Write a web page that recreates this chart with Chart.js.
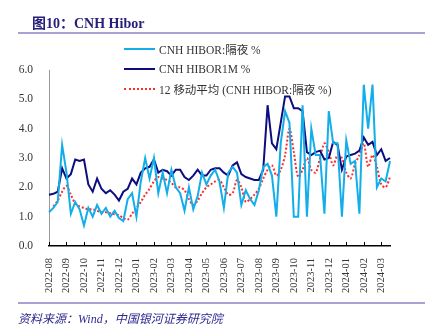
<!DOCTYPE html>
<html>
<head>
<meta charset="utf-8">
<script src="https://cdn.jsdelivr.net/npm/chart.js@4.4.1/dist/chart.umd.min.js"></script>
<style>
body { margin: 0; background: #fff; }
#wrap { position: relative; width: 425px; height: 329px; overflow: hidden; }
#chart_canvas { position: absolute; left: 0; top: 0; }
#title { position: absolute; left: 32px; top: 12px; font: bold 14px "Liberation Serif", "Noto Sans CJK SC", serif; color: #27207a; }
.rule { position: absolute; left: 18px; width: 407px; height: 2px; background: #a9a1d2; }
#legend { position: absolute; left: 124px; top: 39px; font: 11.5px "Liberation Serif", "Noto Sans CJK SC", serif; color: #333; }
.leg_row { height: 20px; display: flex; align-items: center; }
.leg_line { width: 31px; height: 0; margin-right: 4px; }
#source { position: absolute; left: 18px; top: 309px; font: italic 12px "Liberation Serif", "Noto Sans CJK SC", serif; color: #2f2a90; }
</style>
</head>
<body>
<div id="wrap">
    <canvas id="chart_canvas" width="425" height="329"></canvas>
    <div id="title">图10：CNH Hibor</div>
    <div class="rule" style="top:32px"></div>
    <div id="legend"></div>
    <div class="rule" style="top:302px;height:1.5px"></div>
    <div id="source">资料来源：Wind，中国银河证券研究院</div>
</div>
<script>
// month tick labels, one data point per quarter month
const months = ['2022-08', '2022-09', '2022-10', '2022-11', '2022-12', '2023-01', '2023-02', '2023-03',
    '2023-04', '2023-05', '2023-06', '2023-07', '2023-08', '2023-09', '2023-10', '2023-11',
    '2023-12', '2024-01', '2024-02', '2024-03'];

// CNH HIBOR overnight
const hibor_on = [
    1.15, 1.3, 1.5, 3.45, 2.5, 1.1, 1.5, 1.25,
    0.7, 1.3, 1.0, 1.4, 1.1, 1.3, 1.0, 1.2,
    0.95, 0.85, 1.6, 1.8, 1.0, 2.2, 3.0, 2.3,
    3.0, 1.8, 2.5, 1.8, 2.6, 2.0, 1.8, 1.2,
    2.0, 1.25, 1.7, 2.5, 2.1, 2.4, 2.6, 2.2,
    1.3, 2.5, 2.7, 2.5, 1.4, 1.9, 1.6, 1.4,
    1.9, 2.7, 2.8, 2.4, 1.0, 3.5, 4.6, 4.2,
    1.0, 1.0, 4.8, 1.0, 4.0, 3.1, 3.1, 1.1,
    4.6, 3.5, 3.5, 1.0, 3.6, 2.8, 2.9, 1.1,
    5.5, 4.0, 5.5, 2.0, 2.3, 2.2, 2.9
];

// CNH HIBOR 1M
const hibor_1m = [
    1.75, 1.78, 1.85, 2.65, 2.3, 2.45, 2.95, 2.9,
    2.95, 2.1, 1.85, 2.3, 1.95, 1.8, 1.9, 1.75,
    1.55, 1.85, 1.95, 2.3, 2.1, 2.5, 2.65, 2.7,
    2.95, 2.5, 2.6, 2.55, 2.4, 2.6, 2.6, 2.35,
    2.25, 2.4, 2.6, 2.4, 2.4, 2.6, 2.65, 2.65,
    2.5, 2.4, 2.75, 2.85, 2.45, 2.35, 2.3, 2.25,
    2.25, 2.6, 4.8, 3.5, 3.3, 4.2, 5.1, 5.1,
    4.7, 4.7, 4.6, 3.2, 3.1, 3.2, 3.25, 2.95,
    3.0, 3.55, 3.45, 2.6, 3.05, 3.1, 3.15, 3.25,
    3.7, 3.45, 3.55, 3.1, 3.3, 2.9, 3.0
];

// 12-day moving average of the overnight rate
const hibor_on_ma12 = [
    null, 1.35, 1.55, 1.85, 2.05, 1.75, 1.45, 1.35,
    1.3, 1.25, 1.25, 1.2, 1.15, 1.15, 1.12, 1.08,
    1.05, 0.95, 0.9, 1.1, 1.3, 1.5, 1.75, 1.95,
    2.2, 2.35, 2.3, 2.25, 2.15, 2.0, 2.0, 1.9,
    1.6, 1.4, 1.55, 1.8, 2.0, 2.1, 2.2, 2.25,
    2.0, 1.75, 1.8, 2.25, 2.0, 1.5, 1.6, 1.75,
    1.95, 2.3, 2.6, 2.75, 2.4, 2.6, 3.1, 4.0,
    3.2, 2.35, 2.6, 3.0, 2.6, 2.5, 3.0, 3.5,
    3.2, 2.75, 3.1, 3.0, 2.5, 2.3, 2.8, 3.1,
    3.5, 2.7, 3.1, 2.7, 2.1, 2.0, 2.35
];

const series_names = ['CNH HIBOR:隔夜 %', 'CNH HIBOR1M %', '12 移动平均 (CNH HIBOR:隔夜 %)'];
const serif = '"Liberation Serif", "Noto Sans CJK SC", serif';

// quarter-month labels, month name on the first of each group of 4
let labels = [];
for (i = 0; i < hibor_on.length; i++) {
    labels.push(months[Math.floor(i / 4)] + '/' + (i % 4 + 1));
}

// small upward tick marks on the x axis at each month
const month_ticks = {
    id: 'month_ticks',
    afterDraw(chart) {
        const ctx = chart.ctx;
        const xs = chart.scales.x;
        ctx.save();
        ctx.strokeStyle = '#000';
        ctx.lineWidth = 1;
        for (k = 0; k < months.length; k++) {
            const px = Math.round(xs.getPixelForValue(k * 4)) + 0.5;
            ctx.beginPath();
            ctx.moveTo(px, xs.top);
            ctx.lineTo(px, xs.top - 4);
            ctx.stroke();
        }
        ctx.restore();
    }
};

const colors = ['#12aeea', '#0d0d7f', '#ff2b2b'];

// html legend, stacked over the top of the plot
legend_div = document.getElementById('legend');
for (j = 0; j < series_names.length; j++) {
    row = document.createElement('div');
    row.className = 'leg_row';
    line_style = j == 2 ? 'border-top:2px dotted ' + colors[j] : 'border-top:2px solid ' + colors[j];
    row.innerHTML = '<span class="leg_line" style="' + line_style + '"></span>' + series_names[j];
    legend_div.append(row);
}

new Chart(
    document.getElementById('chart_canvas'),
    {
        type: 'line',
        data: {
            labels: labels,
            datasets: [
                {
                    label: series_names[0],
                    data: hibor_on,
                    borderColor: colors[0],
                    borderWidth: 2,
                    pointRadius: 0,
                    tension: 0
                },
                {
                    label: series_names[1],
                    data: hibor_1m,
                    borderColor: colors[1],
                    borderWidth: 2,
                    pointRadius: 0,
                    tension: 0
                },
                {
                    label: series_names[2],
                    data: hibor_on_ma12,
                    borderColor: colors[2],
                    borderWidth: 2,
                    borderDash: [2, 2],
                    pointRadius: 0,
                    tension: 0.3
                }
            ]
        },
        options: {
            responsive: false,
            animation: false,
            layout: {padding: {top: 70, left: 10, right: 35, bottom: 33}},
            plugins: {
                legend: {display: false},
                tooltip: {enabled: false}
            },
            scales: {
                x: {
                    type: 'category',
                    offset: false,
                    grid: {display: false},
                    border: {color: '#000', width: 1.5},
                    afterFit: function (scale) { scale.height = 50; },
                    ticks: {
                        autoSkip: false,
                        maxRotation: 90,
                        minRotation: 90,
                        padding: 4,
                        color: '#333',
                        font: {family: serif, size: 10.5},
                        callback: function (val, idx) {
                            return idx % 4 === 0 ? months[idx / 4] : null;
                        }
                    }
                },
                y: {
                    min: 0,
                    max: 6,
                    grid: {display: false},
                    border: {color: '#999', width: 1, dash: [1, 1]},
                    afterFit: function (scale) { scale.width = 39; },
                    ticks: {
                        stepSize: 1,
                        padding: 8,
                        color: '#333',
                        font: {family: serif, size: 11.5},
                        callback: function (v) { return v.toFixed(1); }
                    }
                }
            }
        },
        plugins: [month_ticks]
    }
);
</script>
</body>
</html>
